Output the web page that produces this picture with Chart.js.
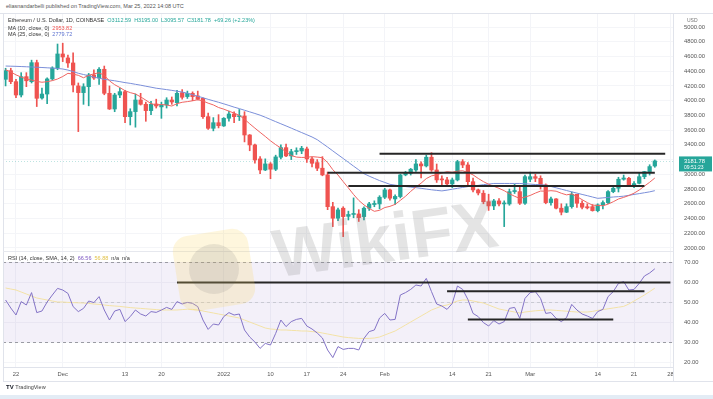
<!DOCTYPE html>
<html>
<head>
<meta charset="utf-8">
<title>Ethereum / U.S. Dollar, 1D</title>
<script src="https://cdn.jsdelivr.net/npm/chart.js@4.4.1/dist/chart.umd.min.js"></script>
<style>
  html, body { margin: 0; padding: 0; background: #fff; }
  body { width: 713px; height: 399px; position: relative; overflow: hidden; font-family: "Liberation Sans", Arial, sans-serif; color: #555; }
  .abs { position: absolute; white-space: nowrap; }
  .txt { font-size: 5.5px; line-height: 7px; }
  canvas { position: absolute; left: 0; }
</style>
</head>
<body>
<div class="abs txt" style="left:6px; top:3px; color:#555;">eliasnandarbelli published on TradingView.com, Mar 25, 2022 14:08 UTC</div>
<div class="abs" style="left:0; top:13px; width:713px; height:1px; background:#e0e3eb;"></div>

<canvas id="priceChart" width="713" height="237" style="top:14px;"></canvas>
<canvas id="rsiChart" width="713" height="131" style="top:251px;"></canvas>

<!-- frame -->
<div class="abs" style="left:3px; top:14px; width:1px; height:367px; background:#e0e3eb;"></div>
<div class="abs" style="left:3px; top:251px; width:670px; height:1px; background:#e6e8ee;"></div>
<div class="abs" style="left:673px; top:367px; width:1px; height:14px; background:#e0e3eb;"></div>
<div class="abs" style="left:3px; top:381px; width:710px; height:1px; background:#e0e3eb;"></div>

<!-- legends -->
<div class="abs txt" style="left:8px; top:17px; color:#333;">Ethereum / U.S. Dollar, 1D, COINBASE&nbsp;&nbsp;<span style="color:#26a69a">O3112.59&nbsp; H3195.00&nbsp; L3095.57&nbsp; C3181.78&nbsp; +69.26 (+2.23%)</span></div>
<div class="abs txt" style="left:8px; top:24.5px; color:#333;">MA (10, close, 0)&nbsp; <span style="color:#ef5350">2953.82</span></div>
<div class="abs txt" style="left:8px; top:31px; color:#333;">MA (25, close, 0)&nbsp; <span style="color:#5c72d0">2779.72</span></div>
<div class="abs txt" style="left:8px; top:254.5px; color:#333;">RSI (14, close, SMA, 14, 2)&nbsp; <span style="color:#7e57c2">66.56</span>&nbsp; <span style="color:#e2c24a">56.88</span>&nbsp; n/a&nbsp; n/a</div>
<div class="abs" style="left:687px; top:17px; font-size:5px; line-height:6px; color:#777;">USD</div>

<!-- watermark -->
<div class="abs" style="left:176px; top:232px; width:76px; height:76px; border-radius:16px; background:rgba(250,214,100,0.22); transform:rotate(-9deg);"></div>
<div class="abs" style="left:189px; top:244px; width:50px; height:50px; border-radius:50%; background:rgba(95,95,95,0.13);"></div>
<div class="abs" style="left:250px; top:200px; width:270px; height:76px; line-height:76px; text-align:center; font-weight:bold; font-size:68px; color:rgba(120,120,120,0.2); transform:rotate(-8deg);">WikiFX</div>

<!-- footer -->
<div class="abs" style="left:6px; top:384px; font-size:6px; line-height:7px; color:#131722;"><b>TV</b> <span style="color:#444; font-size:5.5px;">TradingView</span></div>
<div class="abs" style="left:0; top:395px; width:713px; height:4px; background:#e3ecf5;"></div>

<script>
const UP = '#26a69a', DOWN = '#ef5350';

// daily candles, 2021-11-20 .. 2022-03-25
const opens = [4290,4407,4258,4077,4326,4258,4516,4036,4090,4295,
  4444,4634,4580,4512,4200,4109,4190,4349,4308,4426,
  4100,3887,4077,4122,3783,3851,4009,3951,3865,3955,
  3915,3942,4009,3973,4109,4055,4100,4064,4032,3783,
  3625,3701,3657,3761,3819,3783,3792,3534,3399,3209,
  3059,3141,3069,3232,3362,3250,3308,3317,3344,3209,
  3159,3083,2992,2561,2404,2540,2430,2455,2462,2426,
  2540,2590,2598,2689,2788,2666,2698,2992,3015,3059,
  3141,3114,3232,3059,2938,2924,2870,2924,3172,3127,
  2900,2788,2743,2629,2571,2639,2598,2598,2765,2765,
  2607,2933,2968,2946,2856,2616,2666,2540,2486,2561,
  2729,2607,2560,2561,2507,2585,2616,2765,2811,2933,
  2946,2856,2878,2968,3037,3112.59];
const highs = [4440,4440,4290,4380,4380,4550,4550,4170,4310,4460,
  4769,4780,4620,4650,4240,4230,4370,4420,4450,4470,
  4200,4100,4170,4140,3890,4090,4100,3980,3990,4020,
  3980,4040,4050,4140,4150,4130,4120,4130,4040,3830,
  3770,3810,3770,3860,3850,3880,3850,3540,3410,3240,
  3210,3160,3260,3400,3410,3340,3360,3380,3370,3230,
  3200,3240,3030,2620,2540,2560,2500,2680,2520,2560,
  2620,2640,2710,2810,2800,2720,3000,3040,3080,3200,
  3170,3260,3294,3140,2980,2960,2950,3190,3200,3160,
  2950,2800,2780,2730,2660,2670,2640,2800,2866,2830,
  2990,3030,3000,2980,2870,2690,2670,2600,2600,2760,
  2730,2640,2600,2590,2600,2640,2780,2830,2960,2990,
  2960,2900,3020,3040,3130,3195];
const lows = [4200,4230,4040,4050,4190,4240,3920,4020,3960,4280,
  4420,4530,4450,4120,3580,3950,3930,4290,4220,4080,
  3880,3850,4040,3700,3670,3640,3940,3720,3810,3900,
  3760,3900,3950,3930,4020,4030,4000,4010,3760,3610,
  3590,3630,3650,3720,3700,3730,3440,3320,3150,3010,
  3050,2940,3050,3210,3240,3200,3270,3280,3160,3100,
  3050,2980,2520,2290,2370,2154,2380,2410,2360,2380,
  2510,2560,2530,2670,2650,2590,2680,2980,2990,3040,
  2950,3100,3040,2890,2860,2850,2820,2910,3090,2860,
  2760,2720,2600,2510,2520,2570,2290,2580,2740,2590,
  2590,2900,2900,2800,2600,2580,2530,2449,2480,2540,
  2550,2530,2530,2500,2490,2530,2600,2750,2760,2920,
  2840,2820,2870,2940,2990,3095.57];
const closes = [4407,4258,4077,4326,4270,4516,4032,4090,4295,4444,
  4634,4593,4512,4213,4109,4190,4349,4308,4426,4100,
  3887,4077,4122,3783,3851,4009,3951,3865,3951,3928,
  3942,4009,3982,4100,4046,4100,4055,4019,3783,3625,
  3701,3660,3761,3819,3783,3790,3534,3399,3195,3059,
  3141,3069,3236,3362,3250,3308,3317,3354,3209,3150,
  3083,2992,2561,2404,2517,2426,2455,2460,2412,2540,
  2598,2605,2689,2788,2676,2700,2992,3023,3069,3141,
  3114,3232,3059,2924,2924,2870,2924,3172,3127,2900,
  2788,2747,2629,2571,2639,2598,2605,2765,2780,2607,
  2968,2968,2946,2856,2616,2666,2540,2486,2561,2729,
  2607,2553,2545,2507,2585,2616,2765,2811,2933,2950,
  2856,2874,2968,3037,3105,3181.78];

// moving averages as drawn
const ma10 = [4420,4390,4350,4320,4295,4280,4262,4250,4258,4272,
  4294,4328,4371,4360,4344,4311,4343,4365,4378,4343,
  4269,4217,4178,4135,4109,4091,4051,4007,3960,3942,
  3948,3941,3927,3959,3978,3987,3998,4013,3996,3966,
  3942,3907,3885,3857,3831,3800,3748,3686,3627,3570,
  3514,3455,3403,3357,3304,3255,3234,3229,3231,3240,
  3234,3226,3159,3063,2990,2901,2815,2726,2646,2585,
  2537,2498,2511,2549,2565,2592,2646,2702,2768,2828,
  2880,2942,2979,2993,3018,3035,3028,3043,3049,3025,
  2992,2944,2901,2865,2837,2810,2778,2737,2702,2673,
  2691,2713,2745,2773,2771,2778,2771,2743,2721,2734,
  2698,2656,2616,2581,2578,2573,2595,2628,2665,2687,
  2712,2744,2787,2840,2892,2950];
const ma25 = [4470,4468,4466,4463,4460,4457,4454,4450,4446,4442,
  4437,4430,4415,4395,4372,4355,4338,4320,4305,4290,
  4280,4270,4258,4245,4235,4222,4210,4196,4183,4169,
  4160,4150,4140,4128,4117,4100,4080,4060,4040,4018,
  3998,3978,3957,3935,3912,3892,3870,3848,3826,3803,
  3775,3745,3715,3686,3657,3627,3597,3567,3537,3507,
  3470,3420,3370,3318,3266,3215,3163,3111,3060,3009,
  2975,2945,2915,2890,2864,2853,2843,2834,2826,2819,
  2810,2800,2790,2782,2775,2785,2798,2810,2822,2833,
  2842,2850,2860,2868,2876,2876,2876,2876,2876,2876,
  2872,2867,2862,2858,2853,2835,2817,2799,2780,2762,
  2745,2727,2710,2692,2674,2680,2686,2692,2697,2703,
  2715,2727,2738,2750,2762,2778];

// RSI (14) and its SMA (14)
const rsi = [51,47,43.5,50.2,48.5,54.7,44.7,45.5,50,53.5,
  56.8,56,54.3,47.7,45.2,46.8,50.5,49.7,52.7,46,
  41,45.5,46.3,40.2,42.7,46,44,43,45.2,44.8,
  46,47.3,46.3,50.2,49,49.8,49.3,47.7,41,36.3,
  39,38.5,42.7,44.7,43.5,44,36,32.5,30,26.8,
  29.3,28.5,34.3,41,37.7,40.2,41.3,41.8,38,36.5,
  34.5,32,26,22.2,27.7,26.3,26.8,26.8,26,31.8,
  35.2,36,42,44.3,41,41.3,53.5,54.7,56.3,58.5,
  58,61.8,55.2,49,48,46.3,49.3,58,56.3,51.3,
  44.3,42.7,39.7,38,40.7,39,40.2,46.8,47.3,41.8,
  51.8,54.7,55.2,51.8,44.3,44.7,41.8,40.2,42.2,48.8,
  46,44,43,41.8,45.2,46.3,52.7,55.2,59.3,60.2,
  56,56.3,59.3,63,64.5,66.6];
const rsiMa = [57,56.5,56,55,54,53,52,51.5,51,50.5,
  50,50,49.8,49.7,49.6,49.5,49.3,49,48.8,48.5,
  48.2,48,47.8,47.5,47.2,47,46.8,46.6,46.4,46.2,
  46,46,46,46,46.2,46.4,46.3,46,45.5,45,
  44.5,44,43.5,43,42.5,42,41,40,39,38,
  37,36.5,36.3,36,36,35.8,35.7,35.5,35.5,35.2,
  35,34.5,34,33.5,33,32.5,32.2,32,31.8,31.8,
  31.8,32,32.5,33.5,34.5,35.5,37,38.5,40,41.5,
  43,44.5,46,47,48,48.5,49.5,50.5,51,51,
  50.5,50,49.5,48.5,47.5,46.5,46,45.5,45,44.5,
  45,45.3,45.6,45.8,46,46,45.8,45.6,45.4,45.2,
  45,45,45,45.3,45.8,46.2,46.6,47,47.4,47.8,
  49,50.5,52,53.5,55.2,56.9];

// hand-drawn support / resistance lines
const priceLevelFrom = ['2022-01-31', '2022-01-21', '2022-01-25'];
const priceLevelTo = ['2022-03-27', '2022-03-25', '2022-03-23'];
const priceLevelValue = [3280, 3020, 2840];
const rsiLevelFrom = ['2021-12-23', '2022-02-13', '2022-02-17'];
const rsiLevelTo = ['2022-03-28', '2022-03-23', '2022-03-17'];
const rsiLevelValue = [59.8, 55.4, 41.2];

// axes
const priceTicks = [2000, 2200, 2400, 2600, 2800, 3000, 3200, 3400, 3600, 3800, 4000, 4200, 4400, 4600, 4800, 5000];
const rsiTicks = [20, 30, 40, 50, 60, 70];
const rsiBand = [30, 70];
const rsiMid = 50;
const tickDates = ['2021-11-22', '2021-12-01', '2021-12-13', '2021-12-20', '2022-01-01', '2022-01-10', '2022-01-17',
  '2022-01-24', '2022-02-01', '2022-02-14', '2022-02-21', '2022-03-01', '2022-03-14', '2022-03-21', '2022-03-28'];
const tickTexts = ['22', 'Dec', '13', '20', '2022', '10', '17', '24', 'Feb', '14', '21', 'Mar', '14', '21', '28'];

const dates = [];
for (let d = new Date(Date.UTC(2021, 10, 20)); d <= Date.UTC(2022, 2, 28); d.setUTCDate(d.getUTCDate() + 1)) {
  dates.push(d.toISOString().slice(0, 10));
}

Chart.defaults.font.family = '"Liberation Sans", Arial, sans-serif';
Chart.defaults.font.size = 5.8;
Chart.defaults.color = '#555';

const keepDateTicks = axis => {
  axis.ticks = axis.ticks.filter(t => tickDates.includes(dates[t.value]));
};
const candleColors = opens.map((o, i) => closes[i] >= o ? UP : DOWN);

function levelSets(from, to, values) {
  return values.map((v, k) => ({
    type: 'line',
    data: [{ x: from[k], y: v }, { x: to[k], y: v }],
    borderColor: '#262626',
    borderWidth: 2,
    pointRadius: 0,
    order: 0
  }));
}

const lastPrice = {
  id: 'lastPrice',
  beforeDatasetsDraw(chart) {
    const { ctx, chartArea, scales } = chart;
    const y = Math.round(scales.y.getPixelForValue(closes[closes.length - 1])) + 0.5;
    ctx.save();
    ctx.strokeStyle = 'rgba(38,166,154,0.3)';
    ctx.setLineDash([1, 2]);
    ctx.lineWidth = 1;
    ctx.beginPath();
    ctx.moveTo(chartArea.left, y);
    ctx.lineTo(chartArea.right, y);
    ctx.stroke();
    ctx.restore();
  },
  afterDraw(chart) {
    const { ctx, chartArea, scales } = chart;
    const last = closes[closes.length - 1];
    const y = scales.y.getPixelForValue(last);
    ctx.save();
    ctx.fillStyle = UP;
    ctx.fillRect(chartArea.right + 6, y - 4.5, 33, 15);
    ctx.fillStyle = '#fff';
    ctx.font = '5.8px "Liberation Sans", Arial, sans-serif';
    ctx.textBaseline = 'middle';
    ctx.fillText(last.toFixed(2), chartArea.right + 11, y);
    ctx.font = '5px "Liberation Sans", Arial, sans-serif';
    ctx.fillText('09:51:23', chartArea.right + 11, y + 6.5);
    ctx.restore();
  }
};

const rsiBackground = {
  id: 'rsiBackground',
  beforeDatasetsDraw(chart) {
    const { ctx, chartArea: a, scales: { y } } = chart;
    const top = y.getPixelForValue(rsiBand[1]);
    const bot = y.getPixelForValue(rsiBand[0]);
    ctx.save();
    ctx.fillStyle = 'rgba(126,87,194,0.09)';
    ctx.fillRect(a.left, top, a.right - a.left, bot - top);
    ctx.setLineDash([3, 3]);
    ctx.lineWidth = 1;
    [[rsiBand[1], '#9a9ba3'], [rsiMid, '#c9cad3'], [rsiBand[0], '#9a9ba3']].forEach(([v, c]) => {
      const py = Math.round(y.getPixelForValue(v)) + 0.5;
      ctx.strokeStyle = c;
      ctx.beginPath();
      ctx.moveTo(a.left, py);
      ctx.lineTo(a.right, py);
      ctx.stroke();
    });
    ctx.restore();
  }
};

// price pane
new Chart(document.getElementById('priceChart'), {
  type: 'bar',
  data: {
    labels: dates,
    datasets: [
      ...levelSets(priceLevelFrom, priceLevelTo, priceLevelValue),
      { type: 'line', data: ma10, borderColor: '#ef6461', borderWidth: 1, pointRadius: 0, order: 1 },
      { type: 'line', data: ma25, borderColor: '#7b8fd9', borderWidth: 1, pointRadius: 0, order: 1 },
      { type: 'bar', data: opens.map((o, i) => [o, closes[i]]), backgroundColor: candleColors,
        barThickness: 3.6, minBarLength: 1, grouped: false, order: 2 },
      { type: 'bar', data: lows.map((l, i) => [l, highs[i]]), backgroundColor: candleColors,
        barThickness: 1, grouped: false, order: 3 }
    ]
  },
  options: {
    responsive: false,
    animation: false,
    layout: { padding: { left: 3, right: 0, top: 0, bottom: 0 } },
    plugins: { legend: { display: false }, tooltip: { enabled: false } },
    scales: {
      x: {
        offset: true,
        grid: { offset: false, color: '#f3f4f8', drawTicks: false },
        border: { display: false },
        ticks: { display: false, autoSkip: false },
        afterBuildTicks: keepDateTicks,
        afterFit: a => { a.height = 0; a.paddingLeft = 0; a.paddingRight = 0; }
      },
      y: {
        position: 'right',
        min: 1959,
        max: 5176.5,
        afterBuildTicks: a => { a.ticks = priceTicks.map(v => ({ value: v })); },
        ticks: { callback: v => v.toFixed(2), padding: 11, color: '#555' },
        grid: { color: '#f4f5f8', drawTicks: false },
        border: { color: '#e0e3eb' },
        afterFit: a => { a.width = 40; a.paddingTop = 0; a.paddingBottom = 0; }
      }
    }
  },
  plugins: [lastPrice]
});

// RSI pane
new Chart(document.getElementById('rsiChart'), {
  type: 'line',
  data: {
    labels: dates,
    datasets: [
      ...levelSets(rsiLevelFrom, rsiLevelTo, rsiLevelValue),
      { data: rsi, borderColor: '#8373c6', borderWidth: 1, pointRadius: 0, order: 1 },
      { data: rsiMa, borderColor: '#f3e2a6', borderWidth: 1, pointRadius: 0, order: 2 }
    ]
  },
  options: {
    responsive: false,
    animation: false,
    layout: { padding: { left: 3, right: 0, top: 0, bottom: 0 } },
    plugins: { legend: { display: false }, tooltip: { enabled: false } },
    scales: {
      x: {
        offset: true,
        grid: { offset: false, color: '#f3f4f8', drawTicks: false },
        border: { color: '#e0e3eb' },
        ticks: { autoSkip: false, maxRotation: 0, padding: 4, color: '#555',
          callback: v => tickTexts[tickDates.indexOf(dates[v])] },
        afterBuildTicks: keepDateTicks,
        afterFit: a => { a.height = 15; a.paddingLeft = 0; a.paddingRight = 0; }
      },
      y: {
        position: 'right',
        min: 17.5,
        max: 75.5,
        afterBuildTicks: a => { a.ticks = rsiTicks.map(v => ({ value: v })); },
        ticks: { callback: v => v.toFixed(2), padding: 11, color: '#555' },
        grid: { color: '#f4f5f8', drawTicks: false },
        border: { color: '#e0e3eb' },
        afterFit: a => { a.width = 40; a.paddingTop = 0; a.paddingBottom = 0; }
      }
    }
  },
  plugins: [rsiBackground]
});
</script>
</body>
</html>
